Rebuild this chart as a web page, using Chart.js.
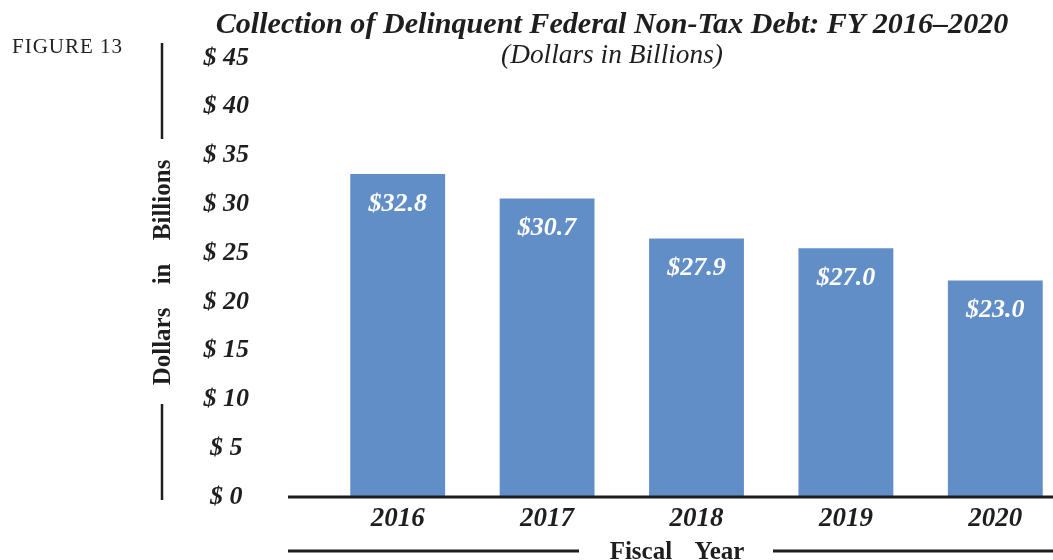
<!DOCTYPE html>
<html>
<head>
<meta charset="utf-8">
<script src="https://cdn.jsdelivr.net/npm/chart.js@4.4.1/dist/chart.umd.min.js"></script>
<style>
  html, body { margin: 0; padding: 0; background: #fff; overflow: hidden; }
  #wrap { position: relative; width: 1070px; height: 560px; }
</style>
</head>
<body>
<div id="wrap"><canvas id="chart" width="1070" height="560"></canvas></div>
<script>
// values (bar heights as drawn, labels as printed)
const years = ['2016', '2017', '2018', '2019', '2020'];
const barHeights = [33.1, 30.6, 26.5, 25.5, 22.2];
const barLabels = ['$32.8', '$30.7', '$27.9', '$27.0', '$23.0'];
const yMin = 0;
const yMax = 45;
const yStep = 5;

const SERIF = '"Liberation Serif", "Times New Roman", serif';
const INK = '#1e1e1e';
const BAR_BLUE = '#628ec8';

function fitFont(ctx, text, style, target) {
  ctx.font = `${style} 20px ${SERIF}`;
  const w = ctx.measureText(text).width;
  return `${style} ${(20 * target / w).toFixed(2)}px ${SERIF}`;
}

function line(ctx, x1, y1, x2, y2, w) {
  ctx.beginPath();
  ctx.lineWidth = w;
  ctx.strokeStyle = INK;
  ctx.moveTo(x1, y1);
  ctx.lineTo(x2, y2);
  ctx.stroke();
}

const decor = {
  id: 'decor',
  afterDraw(chart) {
    const { ctx, chartArea } = chart;
    ctx.save();

    // figure tag
    ctx.font = `21px ${SERIF}`;
    ctx.letterSpacing = '1px';
    ctx.fillStyle = '#222';
    ctx.textAlign = 'left';
    ctx.textBaseline = 'alphabetic';
    ctx.fillText('FIGURE 13', 12, 53);
    ctx.letterSpacing = '0px';

    // title + subtitle
    ctx.fillStyle = INK;
    ctx.textAlign = 'center';
    const title = 'Collection of Delinquent Federal Non-Tax Debt: FY 2016\u20132020';
    ctx.font = fitFont(ctx, title, 'italic bold', 793);
    ctx.fillText(title, 612, 33);
    const sub = '(Dollars in Billions)';
    ctx.font = fitFont(ctx, sub, 'italic', 222);
    ctx.fillText(sub, 612, 63);

    // y axis title with rules
    line(ctx, 162, 43, 162, 139, 2.5);
    line(ctx, 162, 404, 162, 500, 2.5);
    ctx.save();
    ctx.translate(170, 272.5);
    ctx.rotate(-Math.PI / 2);
    ctx.font = `bold 25px ${SERIF}`;
    ctx.wordSpacing = '17px';
    ctx.textAlign = 'center';
    ctx.fillText('Dollars in Billions', 0, 0);
    ctx.restore();

    // x axis line
    line(ctx, 288, chartArea.bottom, chart.width, chartArea.bottom, 3);

    // x axis title with rules
    line(ctx, 288, 551, 579, 551, 3);
    line(ctx, 773, 551, chart.width, 551, 3);
    ctx.font = `bold 25px ${SERIF}`;
    ctx.wordSpacing = '16px';
    ctx.textAlign = 'center';
    ctx.fillText('Fiscal Year', 677, 559);
    ctx.wordSpacing = '0px';

    ctx.restore();
  },
  afterDatasetsDraw(chart) {
    const { ctx } = chart;
    const meta = chart.getDatasetMeta(0);
    ctx.save();
    ctx.fillStyle = '#fff';
    ctx.font = `italic bold 26px ${SERIF}`;
    ctx.textAlign = 'center';
    ctx.textBaseline = 'middle';
    meta.data.forEach((bar, i) => {
      ctx.fillText(barLabels[i], bar.x, bar.y + 30);
    });
    ctx.restore();
  }
};

new Chart(document.getElementById('chart'), {
  type: 'bar',
  data: {
    labels: years,
    datasets: [{
      data: barHeights,
      backgroundColor: BAR_BLUE,
      borderWidth: 0,
      categoryPercentage: 1,
      barPercentage: 0.635
    }]
  },
  options: {
    responsive: false,
    animation: false,
    devicePixelRatio: 1,
    layout: { padding: { top: 58, right: 0, bottom: 0, left: 0 } },
    plugins: { legend: { display: false }, tooltip: { enabled: false } },
    scales: {
      x: {
        grid: { display: false },
        border: { display: false },
        ticks: {
          color: INK,
          padding: -2,
          font: { family: SERIF, size: 27, style: 'italic', weight: 'bold' }
        },
        afterFit(s) { s.height = 63; s.paddingLeft = 0; s.paddingRight = 0; }
      },
      y: {
        min: yMin,
        max: yMax,
        grid: { display: false },
        border: { display: false },
        ticks: {
          stepSize: yStep,
          color: INK,
          crossAlign: 'center',
          padding: 66,
          font: { family: SERIF, size: 26, style: 'italic', weight: 'bold' },
          callback: v => '$ ' + v
        },
        // tick padding would otherwise push the plot area in from top and bottom
        afterFit(s) { s.width = 323; s.paddingTop = 0; s.paddingBottom = 0; }
      }
    }
  },
  plugins: [decor]
});
</script>
</body>
</html>
